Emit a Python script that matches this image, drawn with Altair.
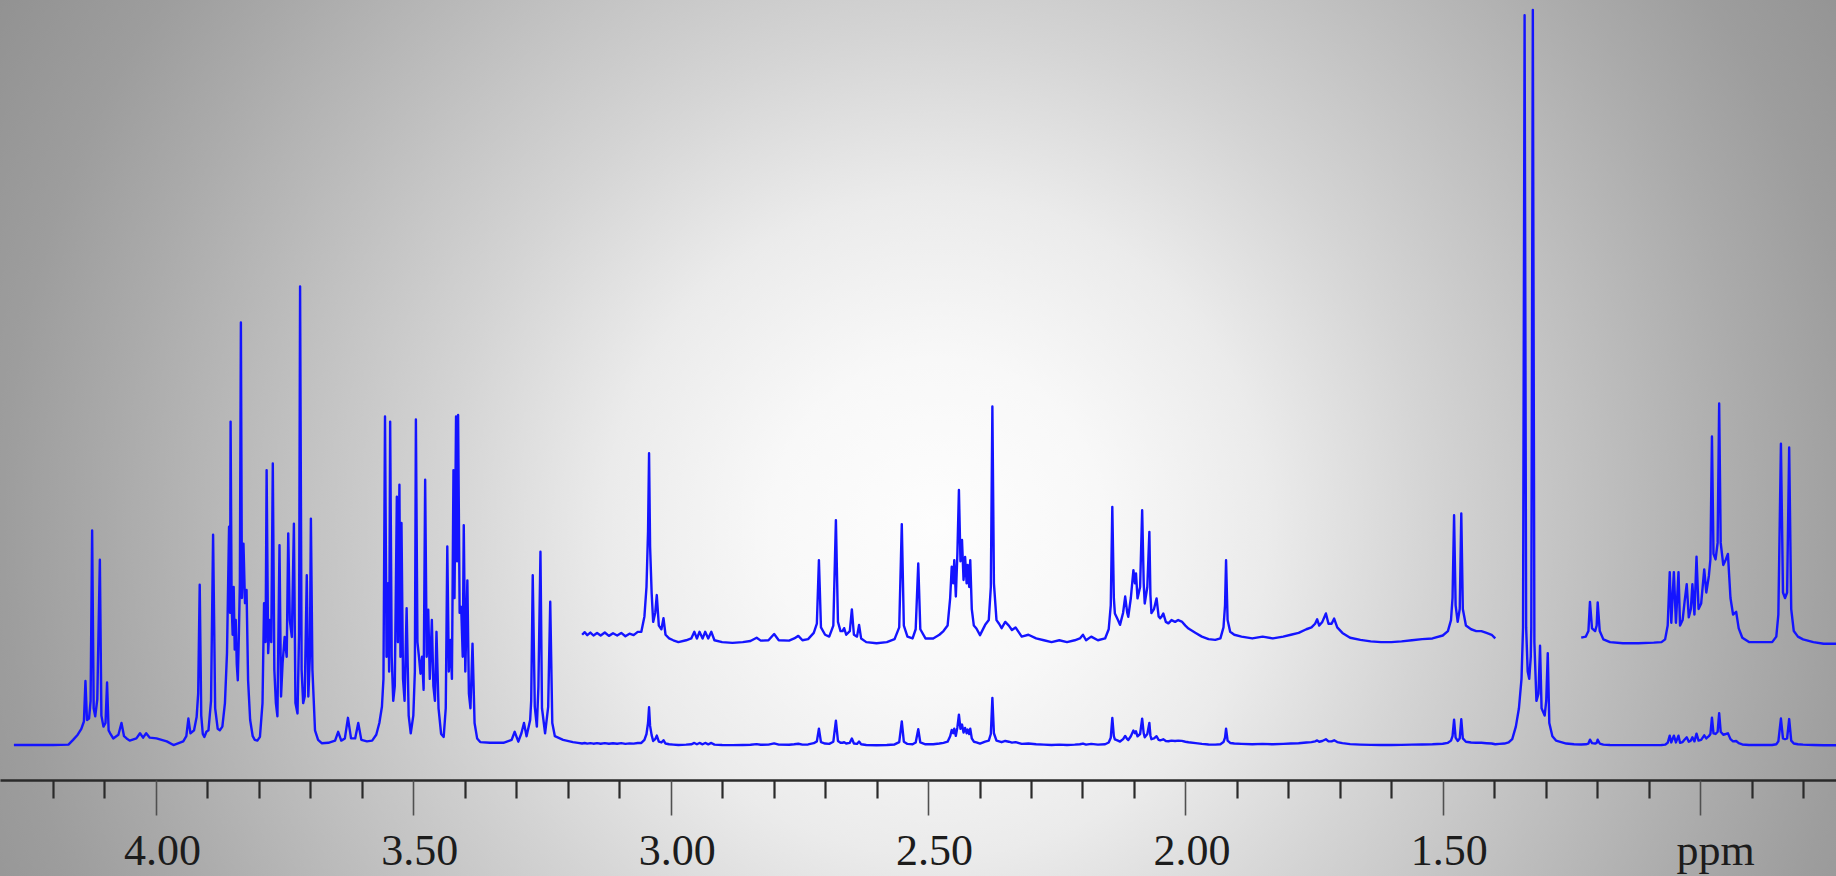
import altair as alt
import pandas as pd

# ---------------------------------------------------------------
# 1H NMR trace: vertices (chemical shift / ppm, intensity)
# intensity unit: lactate doublet top = 100
# ---------------------------------------------------------------
quartet_41 = [
    (4.276, 0.0), (4.200, 0.0), (4.170, 0.05), (4.161, 0.7), (4.152, 1.4),
    (4.145, 2.2), (4.140, 3.2), (4.137, 8.7), (4.134, 3.4), (4.130, 3.6),
    (4.127, 6.0), (4.124, 29.2), (4.121, 5.0), (4.118, 3.9), (4.114, 6.2),
    (4.109, 25.2), (4.106, 4.0), (4.102, 2.5), (4.098, 3.0), (4.095, 8.5),
    (4.092, 2.0), (4.089, 1.6), (4.083, 0.9), (4.073, 1.4), (4.067, 3.0),
    (4.062, 1.2), (4.057, 0.9), (4.051, 0.6), (4.038, 0.9), (4.031, 1.6),
    (4.025, 1.0), (4.019, 1.6), (4.012, 1.0), (3.999, 0.9), (3.979, 0.5),
    (3.966, 0.0), (3.947, 0.5), (3.941, 1.2), (3.937, 3.6), (3.933, 1.6),
    (3.926, 2.0), (3.921, 3.8), (3.918, 7.0), (3.915, 21.8), (3.912, 4.0),
]

sugars_38 = [
    (3.909, 1.5), (3.906, 1.1), (3.902, 1.8), (3.898, 2.0), (3.893, 6.0),
    (3.889, 28.6), (3.885, 5.0), (3.880, 2.2), (3.876, 2.0), (3.871, 2.5),
    (3.866, 5.7), (3.862, 12.5), (3.858, 29.7), (3.856, 18.0), (3.855, 44.0),
    (3.853, 19.3), (3.851, 15.0), (3.849, 21.5), (3.847, 13.0), (3.845, 17.0),
    (3.843, 11.0), (3.841, 8.8), (3.839, 14.7), (3.837, 22.0), (3.835, 57.5),
    (3.833, 20.0), (3.830, 27.4), (3.827, 19.3), (3.824, 21.1), (3.821, 8.8),
    (3.817, 3.4), (3.812, 1.2), (3.808, 0.7), (3.803, 0.6), (3.798, 1.1),
    (3.793, 5.7), (3.790, 19.3), (3.787, 14.0), (3.785, 37.4), (3.782, 12.5),
    (3.779, 17.0), (3.776, 14.0), (3.773, 38.3), (3.770, 10.2), (3.767, 5.7),
    (3.764, 3.9), (3.760, 27.2), (3.757, 6.6), (3.754, 11.1), (3.750, 14.7),
    (3.746, 12.0), (3.743, 28.8), (3.740, 17.0), (3.736, 14.7), (3.732, 30.1),
    (3.729, 5.7), (3.725, 4.3), (3.722, 15.0), (3.720, 62.4), (3.717, 10.2),
    (3.714, 5.7), (3.711, 6.6), (3.707, 23.1), (3.704, 6.6), (3.701, 12.0),
    (3.699, 30.8), (3.696, 10.2), (3.691, 2.0), (3.685, 0.7), (3.678, 0.25),
]

minor_36 = [
    (3.665, 0.3), (3.652, 0.6), (3.646, 1.8), (3.640, 0.6), (3.633, 0.9),
    (3.627, 3.7), (3.621, 0.9), (3.613, 0.9), (3.607, 3.0), (3.601, 0.7),
    (3.590, 0.5), (3.580, 0.6), (3.572, 1.4), (3.566, 3.0), (3.561, 5.2),
]

sugars_35 = [
    (3.558, 9.0), (3.555, 44.7), (3.552, 12.0), (3.549, 22.0), (3.547, 10.0),
    (3.545, 44.0), (3.542, 12.0), (3.539, 6.0), (3.536, 8.0), (3.532, 33.8),
    (3.530, 14.0), (3.527, 35.4), (3.525, 12.0), (3.523, 30.2), (3.520, 9.0),
    (3.517, 6.0), (3.513, 18.6), (3.509, 4.0), (3.505, 1.6), (3.500, 4.0),
    (3.497, 10.0), (3.495, 44.3), (3.492, 14.0), (3.489, 12.0), (3.486, 9.7),
    (3.483, 12.0), (3.480, 7.5), (3.477, 36.1), (3.474, 12.0), (3.471, 18.4),
    (3.468, 9.0), (3.464, 17.0), (3.461, 8.0), (3.458, 6.0), (3.455, 15.4),
    (3.451, 5.0), (3.446, 1.5), (3.441, 1.1), (3.437, 5.0), (3.434, 27.0),
    (3.431, 10.0), (3.428, 14.3), (3.425, 9.0), (3.422, 37.4), (3.420, 20.0),
    (3.417, 44.7), (3.415, 25.0), (3.413, 44.9), (3.410, 18.0), (3.407, 18.8),
    (3.404, 12.0), (3.402, 29.9), (3.399, 10.0), (3.395, 22.4), (3.392, 7.0),
    (3.389, 5.0), (3.385, 13.8), (3.381, 3.0), (3.376, 0.9),
]

region_33 = [
    (3.370, 0.4), (3.351, 0.3), (3.325, 0.3), (3.309, 0.7), (3.303, 1.8),
    (3.296, 0.45), (3.290, 1.6), (3.285, 3.0), (3.280, 1.2), (3.273, 3.4),
    (3.271, 6.0), (3.268, 23.1), (3.264, 5.2), (3.260, 2.5), (3.257, 7.9),
    (3.253, 26.3), (3.250, 5.0), (3.244, 1.6), (3.238, 5.2), (3.234, 19.5),
    (3.230, 3.0), (3.225, 1.2), (3.209, 0.7), (3.190, 0.4), (3.180, 0.3),
]

mid_30 = [
    (3.172, 0.2), (3.167, 0.27), (3.162, 0.19), (3.156, 0.26), (3.150, 0.18),
    (3.143, 0.25), (3.136, 0.18), (3.128, 0.26), (3.120, 0.17), (3.112, 0.24),
    (3.104, 0.18), (3.096, 0.25), (3.088, 0.16), (3.080, 0.23), (3.072, 0.19),
    (3.064, 0.28), (3.057, 0.28), (3.051, 0.7), (3.047, 1.5), (3.044, 3.0),
    (3.042, 5.14), (3.040, 2.6), (3.037, 1.34), (3.034, 0.55), (3.030, 0.8),
    (3.027, 1.28), (3.023, 0.45), (3.018, 0.35), (3.014, 0.65), (3.010, 0.2),
    (3.003, 0.1), (2.995, 0.05), (2.985, 0.0), (2.970, 0.05), (2.960, 0.1),
    (2.954, 0.28), (2.949, 0.1), (2.944, 0.28), (2.938, 0.1), (2.933, 0.28),
    (2.927, 0.1), (2.921, 0.28), (2.915, 0.05), (2.900, 0.0), (2.880, -0.02),
    (2.860, 0.0), (2.845, 0.03), (2.833, 0.12), (2.825, 0.04), (2.810, 0.05),
    (2.799, 0.22), (2.790, 0.05), (2.770, 0.04), (2.760, 0.1), (2.752, 0.17),
    (2.744, 0.05), (2.733, 0.08), (2.722, 0.25), (2.716, 0.5), (2.712, 2.23),
    (2.708, 0.4), (2.700, 0.2), (2.692, 0.15), (2.684, 0.45), (2.679, 3.32),
    (2.675, 0.55), (2.670, 0.3), (2.666, 0.3), (2.663, 0.38), (2.659, 0.2),
    (2.652, 0.3), (2.648, 0.89), (2.644, 0.2), (2.638, 0.15), (2.634, 0.47),
    (2.630, 0.1), (2.620, 0.0), (2.600, -0.03), (2.580, 0.0), (2.565, 0.08),
]

mid_24 = [
    (2.556, 0.4), (2.551, 3.21), (2.547, 0.45), (2.540, 0.15), (2.530, 0.1),
    (2.524, 0.35), (2.519, 2.14), (2.515, 0.35), (2.505, 0.1), (2.490, 0.1),
    (2.478, 0.2), (2.470, 0.3), (2.462, 0.45), (2.457, 1.2), (2.454, 2.05),
    (2.451, 1.6), (2.449, 2.23), (2.446, 1.24), (2.443, 2.4), (2.440, 4.14),
    (2.437, 2.2), (2.434, 2.78), (2.431, 1.69), (2.428, 2.32), (2.425, 1.6),
    (2.423, 2.1), (2.420, 1.5), (2.418, 2.23), (2.415, 0.9), (2.411, 0.45),
    (2.406, 0.37), (2.399, 0.19), (2.389, 0.47), (2.382, 0.6), (2.378, 1.5),
    (2.375, 6.41), (2.372, 1.6), (2.367, 0.6), (2.362, 0.5), (2.357, 0.38),
]

mid_21 = [
    (2.350, 0.55), (2.343, 0.45), (2.337, 0.33), (2.330, 0.4), (2.318, 0.15),
    (2.305, 0.2), (2.290, 0.1), (2.275, 0.05), (2.260, 0.0), (2.245, 0.05),
    (2.230, 0.0), (2.215, 0.05), (2.205, 0.1), (2.199, 0.2), (2.193, 0.05),
    (2.183, 0.15), (2.170, 0.05), (2.156, 0.1), (2.149, 0.35), (2.145, 1.0),
    (2.142, 3.68), (2.139, 1.2), (2.137, 0.78), (2.131, 0.6), (2.127, 0.47),
    (2.121, 0.8), (2.117, 1.24), (2.113, 0.8), (2.111, 0.69), (2.106, 1.2),
    (2.101, 1.96), (2.098, 1.6), (2.096, 1.87), (2.093, 1.19), (2.088, 1.5),
    (2.084, 3.59), (2.081, 1.6), (2.079, 1.05), (2.074, 1.5), (2.070, 3.0),
    (2.068, 1.3), (2.066, 0.79), (2.061, 0.9), (2.056, 1.19), (2.052, 0.7),
    (2.049, 0.65), (2.046, 0.7), (2.043, 0.78), (2.038, 0.55), (2.033, 0.51),
    (2.027, 0.6), (2.020, 0.55), (2.014, 0.6), (2.007, 0.56), (2.000, 0.45),
    (1.994, 0.37), (1.980, 0.25), (1.968, 0.15), (1.955, 0.08), (1.942, 0.06),
    (1.932, 0.1), (1.926, 0.4), (1.923, 1.0), (1.921, 2.23), (1.918, 0.6),
    (1.913, 0.28), (1.905, 0.2), (1.891, 0.15),
]

mid_17 = [
    (1.870, 0.1), (1.850, 0.15), (1.830, 0.1), (1.810, 0.15), (1.795, 0.2),
    (1.780, 0.25), (1.765, 0.35), (1.755, 0.4), (1.748, 0.5), (1.744, 0.62),
    (1.740, 0.45), (1.734, 0.55), (1.727, 0.78), (1.722, 0.5), (1.716, 0.5),
    (1.711, 0.64), (1.705, 0.4), (1.695, 0.25), (1.680, 0.12), (1.660, 0.06),
    (1.640, 0.02), (1.620, 0.0), (1.600, 0.0), (1.580, 0.02), (1.560, 0.05),
    (1.540, 0.08), (1.520, 0.1), (1.500, 0.18), (1.490, 0.3), (1.484, 0.6),
    (1.481, 1.2), (1.478, 3.45), (1.475, 1.0), (1.471, 0.55), (1.467, 0.9),
    (1.464, 3.5), (1.461, 0.9), (1.455, 0.45), (1.445, 0.35), (1.435, 0.3),
    (1.425, 0.3), (1.415, 0.25), (1.405, 0.2), (1.398, 0.1),
]

lactate_13 = [
    (1.390, 0.15), (1.380, 0.2), (1.372, 0.35), (1.365, 0.8), (1.358, 2.5),
    (1.352, 5.0), (1.347, 9.0), (1.344, 16.0), (1.341, 99.3), (1.338, 16.0),
    (1.335, 10.0), (1.332, 9.0), (1.329, 12.0), (1.328, 16.0), (1.325, 100.0),
    (1.322, 14.0), (1.318, 6.0), (1.314, 7.0), (1.311, 13.5), (1.308, 5.0),
    (1.302, 4.0), (1.299, 6.0), (1.296, 12.5), (1.293, 3.0), (1.287, 1.2),
    (1.280, 0.6), (1.270, 0.4), (1.260, 0.2), (1.245, 0.1), (1.231, 0.08),
]

methyl_10 = [
    (1.222, 0.1), (1.217, 0.2), (1.214, 0.73), (1.210, 0.25), (1.204, 0.2),
    (1.201, 0.3), (1.199, 0.72), (1.195, 0.2), (1.188, 0.05), (1.175, 0.0),
    (1.150, -0.02), (1.120, -0.02), (1.090, -0.01), (1.075, 0.0), (1.068, 0.05),
    (1.063, 0.3), (1.059, 1.27), (1.056, 0.35), (1.051, 1.27), (1.047, 0.35),
    (1.042, 1.27), (1.039, 0.3), (1.034, 0.4), (1.030, 0.75), (1.026, 1.05),
    (1.022, 0.45), (1.018, 0.6), (1.015, 1.05), (1.011, 0.5), (1.007, 1.55),
    (1.003, 0.6), (0.998, 0.7), (0.992, 1.32), (0.988, 0.9), (0.983, 1.2),
    (0.980, 1.5), (0.977, 3.73), (0.974, 1.6), (0.970, 1.5), (0.966, 1.8),
    (0.963, 4.33), (0.960, 1.8), (0.955, 1.4), (0.950, 1.5), (0.946, 1.6),
    (0.941, 0.8), (0.936, 0.5), (0.930, 0.55), (0.925, 0.25), (0.918, 0.08),
    (0.905, 0.0), (0.880, 0.0), (0.860, 0.0), (0.852, 0.1), (0.848, 0.5),
    (0.843, 3.6), (0.839, 0.9), (0.835, 0.8), (0.831, 0.9), (0.827, 3.53),
    (0.823, 0.6), (0.818, 0.2), (0.810, 0.1), (0.800, 0.05), (0.780, 0.0),
    (0.760, -0.03), (0.736, -0.03),
]

# vertical expansions plotted above the full trace: (name, from ppm, to ppm, gain)
expansions = [
    ("3.17-1.40", 3.172, 1.398, 5.0),
    ("1.23-0.74", 1.231, 0.736, 7.5),
]
EXPANSION_BASE = 14.0

# axis ticks
major_ticks = [4.0, 3.5, 3.0, 2.5, 2.0, 1.5, 1.0]
minor_ticks = [4.2, 4.1, 3.9, 3.8, 3.7, 3.6, 3.4, 3.3, 3.2, 3.1, 2.9, 2.8, 2.7,
               2.6, 2.4, 2.3, 2.2, 2.1, 1.9, 1.8, 1.7, 1.6, 1.4, 1.3, 1.2, 1.1,
               0.9, 0.8]

# ---------------------------------------------------------------
regions = [quartet_41, sugars_38, minor_36, sugars_35, region_33, mid_30,
           mid_24, mid_21, mid_17, lactate_13, methyl_10]
spectrum = pd.DataFrame([pt for reg in regions for pt in reg],
                        columns=["ppm", "intensity"])
spectrum = spectrum.sort_values("ppm", ascending=False).reset_index(drop=True)
spectrum["level"] = spectrum["intensity"]

parts = []
for name, hi, lo, gain in expansions:
    sub = spectrum[(spectrum["ppm"] <= hi) & (spectrum["ppm"] >= lo)].copy()
    sub["level"] = EXPANSION_BASE + gain * sub["intensity"]
    sub["seg"] = name
    parts.append(sub)
expanded = pd.concat(parts, ignore_index=True)

W, H = 1836, 876
x_scale = alt.Scale(domain=[0.736, 4.303], reverse=True, nice=False, zero=False)
y_scale = alt.Scale(domain=[-17.82, 101.36], nice=False, zero=False)

BLUE = "#1414ff"

minor_axis = alt.Axis(
    values=minor_ticks, orient="bottom", offset=-96, title=None, grid=False,
    labels=False, tickSize=18, tickWidth=2.2, tickColor="#2a2a2a",
    domain=True, domainColor="#2a2a2a", domainWidth=2.6, zindex=2,
)
major_axis = alt.Axis(
    values=major_ticks, orient="bottom", offset=-96, title=None, grid=False,
    domain=False, tickSize=35, tickWidth=1.6, tickColor="#505050",
    labelExpr="datum.value == 1 ? 'ppm' : format(datum.value, '.2f')",
    labelFont="Liberation Serif", labelFontSize=44, labelColor="#1c1c1c",
    labelPadding=14, labelOverlap=False, labelFlush=False, zindex=2,
    labelOffset={"condition": {"test": "datum.value == 1", "value": 15}, "value": 6},
)

# soft radial backdrop
backdrop = alt.Chart(pd.DataFrame({"k": [0]})).mark_rect(
    clip=True,
    fill=alt.RadialGradient(
        gradient="radial", x1=0.5, y1=0.5, r1=0, x2=0.5, y2=0.5, r2=0.5,
        stops=[
            alt.GradientStop(offset=0.0, color="#fdfdfd"),
            alt.GradientStop(offset=0.15, color="#f8f8f8"),
            alt.GradientStop(offset=0.30, color="#ebebeb"),
            alt.GradientStop(offset=0.45, color="#d4d4d4"),
            alt.GradientStop(offset=0.60, color="#bfbfbf"),
            alt.GradientStop(offset=0.75, color="#aaaaaa"),
            alt.GradientStop(offset=0.85, color="#9d9d9d"),
            alt.GradientStop(offset=1.0, color="#909090"),
        ],
    ),
).encode(
    x=alt.value(-163), x2=alt.value(2037), y=alt.value(-575), y2=alt.value(1625)
)

full_trace = alt.Chart(spectrum).mark_line(
    color=BLUE, strokeWidth=2.4, strokeJoin="round"
).encode(
    x=alt.X("ppm:Q", scale=x_scale, axis=minor_axis),
    y=alt.Y("level:Q", scale=y_scale, axis=None),
)

expanded_trace = alt.Chart(expanded).mark_line(
    color=BLUE, strokeWidth=2.4, strokeJoin="round"
).encode(
    x=alt.X("ppm:Q", scale=x_scale, axis=major_axis),
    y=alt.Y("level:Q", scale=y_scale, axis=None),
    detail="seg:N",
)

chart = (
    alt.layer(backdrop, full_trace, expanded_trace)
    .resolve_axis(x="independent")
    .properties(width=W, height=H, padding=0, autosize="none", background="#a0a0a0")
    .configure_view(stroke=None)
)

chart.save("out.html", embed_options={"renderer": "svg", "actions": False})
